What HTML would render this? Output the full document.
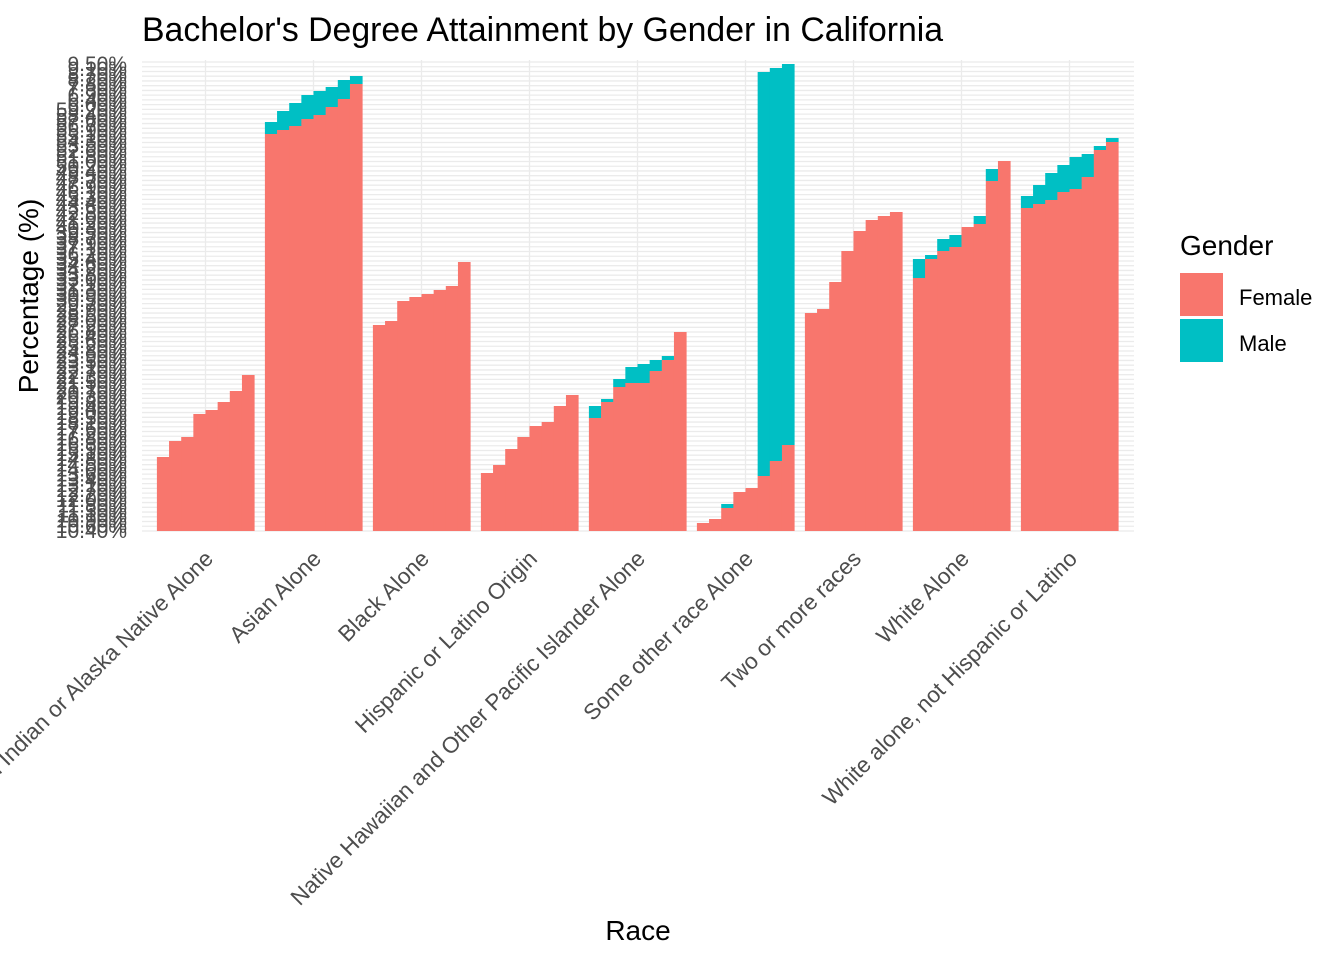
<!DOCTYPE html>
<html><head><meta charset="utf-8"><style>
html,body{margin:0;padding:0;background:#fff;}
svg{display:block;font-family:"Liberation Sans",Arial,sans-serif;}
</style></head><body>
<svg id="chart" width="1344" height="960" viewBox="0 0 1344 960">
<text x="142" y="41" font-size="33.8" fill="#000">Bachelor's Degree Attainment by Gender in California</text>
<g id="grid"></g>
<g id="bars"></g>
<g id="yticks"></g>
<g id="xticks"></g>
<text x="638" y="940" font-size="28" text-anchor="middle" fill="#000">Race</text>
<text transform="translate(38,296) rotate(-90)" font-size="28" text-anchor="middle" fill="#000">Percentage (%)</text>
<g>
<text x="1180" y="255" font-size="28" fill="#000">Gender</text>
<g><rect x="1180" y="273" width="43" height="43" fill="#F8766D"/><text x="1239" y="305" font-size="22" fill="#000">Female</text></g>
<g><rect x="1180" y="319" width="43" height="43" fill="#00BFC4"/><text x="1239" y="351" font-size="22" fill="#000">Male</text></g>
</g>
</svg>
<script>
const categories=["American Indian or Alaska Native Alone","Asian Alone","Black Alone","Hispanic or Latino Origin","Native Hawaiian and Other Pacific Islander Alone","Some other race Alone","Two or more races","White Alone","White alone, not Hispanic or Latino"];
const femaleValues=[
[74,90,94,117,121,129,140,156],
[397,401,405,412,416,424,432,447],
[206,210,230,234,237,241,245,269],
[58,66,82,94,105,109,125,136],
[113,129,144,148,148,160,171,199],
[8,12,23,39,43,55,70,86],
[218,222,249,280,300,311,315,319],
[253,272,280,284,304,307,350,370],
[323,327,331,339,342,354,381,389]];
const totalValues=[
[74,90,94,117,121,129,140,156],
[409,420,428,436,440,444,451,455],
[206,210,230,234,237,241,245,269],
[58,66,82,94,105,109,125,136],
[125,132,152,164,167,171,175,199],
[8,12,27,39,43,459,463,467],
[218,222,249,280,300,311,315,319],
[272,276,292,296,304,315,362,370],
[335,346,358,366,374,377,385,393]];
const yTickLabels=["10.40%","10.60%","10.90%","11.10%","11.30%","11.80%","12.00%","12.20%","12.70%","13.10%","13.40%","13.60%","14.00%","14.50%","14.80%","15.10%","15.90%","16.30%","16.80%","17.20%","17.60%","18.10%","18.50%","19.00%","19.40%","19.80%","20.30%","20.70%","21.10%","21.50%","22.30%","22.70%","23.10%","23.50%","23.90%","24.80%","25.20%","25.60%","26.40%","26.80%","27.20%","28.00%","28.50%","28.90%","29.70%","30.50%","30.90%","31.30%","32.10%","33.00%","33.80%","34.20%","34.60%","35.40%","36.20%","37.10%","37.90%","38.70%","39.50%","40.30%","41.20%","42.00%","42.80%","43.60%","44.40%","45.30%","46.10%","46.90%","47.70%","48.50%","49.40%","50.20%","51.00%","51.80%","52.60%","53.50%","54.30%","55.10%","55.90%","56.70%","57.60%","58.40%","59.20%","6.00%","6.40%","6.90%","7.30%","7.80%","8.20%","8.70%","9.10%","9.50%"];
const NS="http://www.w3.org/2000/svg";
const X0=151.5,X1=1123.5,Y0=531,YTOP=64,YMAX=467;
const band=(X1-X0)/categories.length;
function xCenter(i){return X0+band*(i+0.5);}
function yScale(v){return Y0-(v/YMAX)*(Y0-YTOP);}
function mk(tag,attrs,parent){const e=document.createElementNS(NS,tag);for(const k in attrs)e.setAttribute(k,attrs[k]);parent.appendChild(e);return e;}
const grid=document.getElementById('grid');
const nGrid=100;
for(let k=0;k<nGrid;k++){const y=Y0-k*(Y0-YTOP+2)/(nGrid-1);
const l=mk('line',{x1:142,x2:1134,y1:y,y2:y,stroke:'#ebebeb','stroke-width':1.3},grid);

}
categories.forEach((c,i)=>{const l=mk('line',{x1:xCenter(i),x2:xCenter(i),y1:YTOP-4,y2:Y0,stroke:'#ebebeb','stroke-width':1.3},grid);

});
const bars=document.getElementById('bars');
const bw=band*0.9, cw=bw/8;
categories.forEach((c,i)=>{const left=xCenter(i)-bw/2;
femaleValues[i].forEach((f,j)=>{const x=left+j*cw;const t=totalValues[i][j];
if(t>f){const m=mk('rect',{x:x,y:yScale(t),width:cw+0.5,height:yScale(f)-yScale(t),fill:'#00BFC4'},bars);

}
const r=mk('rect',{x:x,y:yScale(f),width:cw+0.5,height:Y0-yScale(f),fill:'#F8766D'},bars);

});});
const yt=document.getElementById('yticks');
yTickLabels.forEach((s,k)=>{const y=Y0-k*(Y0-YTOP)/(yTickLabels.length-1);
const t=mk('text',{x:127,y:y+7,'font-size':21,'text-anchor':'end',fill:'#4d4d4d'},yt);t.textContent=s;

});
const xt=document.getElementById('xticks');
categories.forEach((c,i)=>{const cx=xCenter(i)+9,cy=560;
const t=mk('text',{x:cx,y:cy,'font-size':22.5,'text-anchor':'end',fill:'#4d4d4d',transform:`rotate(-45 ${cx} ${cy})`},xt);t.textContent=c;

});
</script>
</body></html>
